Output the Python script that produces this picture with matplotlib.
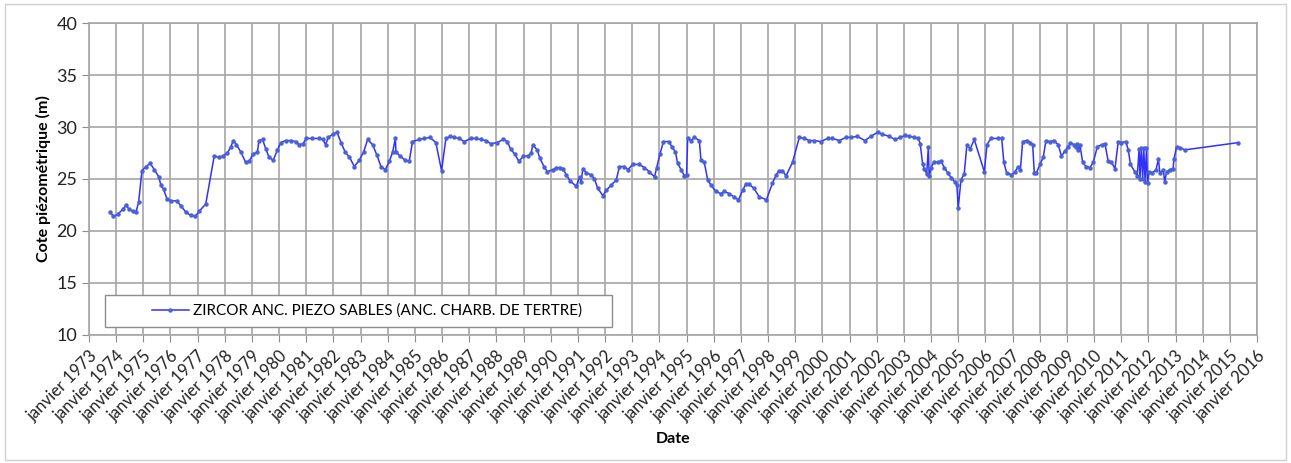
import matplotlib.pyplot as plt
from matplotlib.patches import Rectangle

# dates as decimal years, water level in m
years = [1973.79, 1973.9, 1974.06, 1974.25, 1974.37, 1974.47, 1974.61, 1974.73, 1974.83, 1974.95,
         1975.1, 1975.25, 1975.41, 1975.57, 1975.65, 1975.75, 1975.87, 1976.02, 1976.23, 1976.39,
         1976.57, 1976.75, 1976.91, 1977.06, 1977.3, 1977.61, 1977.77, 1977.92, 1978.1, 1978.22,
         1978.32, 1978.43, 1978.59, 1978.77, 1978.9, 1979.04, 1979.2, 1979.26, 1979.39, 1979.51,
         1979.63, 1979.78, 1979.94, 1980.06, 1980.24, 1980.43, 1980.61, 1980.73, 1980.88, 1981.0,
         1981.22, 1981.47, 1981.61, 1981.71, 1981.81, 1981.98, 1982.13, 1982.28, 1982.43, 1982.59,
         1982.77, 1982.95, 1983.11, 1983.26, 1983.44, 1983.6, 1983.75, 1983.91, 1984.06, 1984.18,
         1984.28, 1984.3, 1984.46, 1984.64, 1984.79, 1984.91, 1985.16, 1985.34, 1985.56, 1985.77,
         1985.98, 1986.14, 1986.3, 1986.45, 1986.63, 1986.81, 1987.06, 1987.24, 1987.42, 1987.61,
         1987.79, 1988.03, 1988.25, 1988.4, 1988.52, 1988.67, 1988.83, 1988.99, 1989.16, 1989.28,
         1989.34, 1989.5, 1989.6, 1989.75, 1989.87, 1990.09, 1990.2, 1990.33, 1990.45, 1990.57,
         1990.72, 1990.94, 1991.06, 1991.12, 1991.18, 1991.31, 1991.49, 1991.61, 1991.73, 1991.92,
         1992.04, 1992.22, 1992.41, 1992.53, 1992.71, 1992.84, 1993.02, 1993.26, 1993.45, 1993.63,
         1993.82, 1993.9, 1994.02, 1994.15, 1994.34, 1994.46, 1994.59, 1994.67, 1994.8, 1994.92,
         1995.0, 1995.04, 1995.16, 1995.29, 1995.47, 1995.53, 1995.65, 1995.78, 1995.9, 1996.08,
         1996.26, 1996.38, 1996.57, 1996.73, 1996.91, 1997.06, 1997.18, 1997.3, 1997.48, 1997.67,
         1997.94, 1998.16, 1998.3, 1998.4, 1998.53, 1998.66, 1998.9, 1999.15, 1999.33, 1999.52,
         1999.7, 1999.94, 2000.19, 2000.37, 2000.62, 2000.87, 2001.05, 2001.29, 2001.56, 2001.79,
         2002.03, 2002.21, 2002.46, 2002.67, 2002.87, 2003.04, 2003.2, 2003.38, 2003.53, 2003.6,
         2003.69, 2003.75, 2003.84, 2003.9, 2003.93, 2004.0, 2004.1, 2004.24, 2004.36, 2004.49,
         2004.61, 2004.75, 2004.88, 2004.95, 2005.0, 2005.1, 2005.22, 2005.32, 2005.44, 2005.59,
         2005.96, 2006.06, 2006.2, 2006.45, 2006.6, 2006.68, 2006.78, 2006.96, 2007.09, 2007.21,
         2007.29, 2007.37, 2007.52, 2007.66, 2007.74, 2007.8, 2007.88, 2008.01, 2008.13, 2008.23,
         2008.37, 2008.52, 2008.68, 2008.8, 2008.93, 2009.05, 2009.13, 2009.26, 2009.33, 2009.38,
         2009.42, 2009.48, 2009.58, 2009.7, 2009.85, 2009.97, 2010.12, 2010.28, 2010.4, 2010.52,
         2010.64, 2010.77, 2010.89, 2011.01, 2011.17, 2011.26, 2011.34, 2011.5, 2011.59, 2011.66,
         2011.69, 2011.74, 2011.79, 2011.83, 2011.88, 2011.93, 2011.97, 2012.03, 2012.15, 2012.28,
         2012.37, 2012.42, 2012.55, 2012.6, 2012.67, 2012.79, 2012.91, 2012.94, 2013.04, 2013.18,
         2013.34, 2015.31]
levels = [21.8, 21.4, 21.6, 22.1, 22.5, 22.1, 21.9, 21.8, 22.8, 25.8,
          26.2, 26.5, 25.9, 25.2, 24.4, 24.0, 23.1, 22.9, 22.9, 22.4,
          21.8, 21.5, 21.4, 21.9, 22.6, 27.2, 27.1, 27.2, 27.5, 28.1,
          28.7, 28.3, 27.6, 26.6, 26.7, 27.4, 27.6, 28.7, 28.8, 27.9,
          27.1, 26.8, 27.8, 28.5, 28.7, 28.7, 28.6, 28.3, 28.4, 28.9,
          28.9, 28.9, 28.8, 28.3, 29.0, 29.3, 29.5, 28.5, 27.6, 27.1,
          26.2, 26.8, 27.6, 28.8, 28.3, 27.3, 26.2, 25.9, 26.7, 27.6,
          28.9, 27.6, 27.2, 26.8, 26.7, 28.6, 28.8, 28.9, 29.0, 28.5,
          25.8, 28.9, 29.1, 29.0, 28.9, 28.6, 28.9, 28.9, 28.8, 28.7,
          28.4, 28.5, 28.8, 28.6, 27.9, 27.4, 26.7, 27.2, 27.2, 27.5,
          28.3, 27.8, 27.0, 26.2, 25.7, 25.9, 26.1, 26.1, 26.0, 25.4,
          24.8, 24.3, 25.2, 24.7, 26.0, 25.6, 25.4, 25.0, 24.1, 23.4,
          23.9, 24.4, 24.9, 26.2, 26.2, 25.9, 26.4, 26.4, 26.1, 25.7,
          25.2, 26.1, 27.4, 28.6, 28.6, 28.1, 27.6, 26.5, 25.9, 25.3,
          25.4, 28.9, 28.7, 29.0, 28.7, 26.8, 26.6, 24.9, 24.4, 23.8,
          23.6, 23.8, 23.6, 23.3, 23.0, 23.9, 24.5, 24.5, 24.1, 23.3,
          23.0, 24.6, 25.4, 25.8, 25.8, 25.3, 26.6, 29.0, 28.9, 28.7,
          28.7, 28.6, 28.9, 28.9, 28.7, 29.0, 29.0, 29.1, 28.7, 29.1,
          29.5, 29.3, 29.1, 28.8, 29.0, 29.2, 29.1, 29.0, 28.9, 28.4,
          26.4, 26.0, 25.5, 28.1, 25.3, 26.1, 26.6, 26.6, 26.7, 26.1,
          25.6, 25.1, 24.7, 24.4, 22.2, 24.9, 25.5, 28.3, 27.9, 28.8,
          25.7, 28.3, 28.9, 28.9, 28.9, 26.6, 25.6, 25.4, 25.7, 26.2,
          25.9, 28.6, 28.7, 28.5, 28.3, 25.6, 25.6, 26.4, 27.1, 28.7,
          28.6, 28.7, 28.3, 27.2, 27.7, 28.1, 28.5, 28.3, 28.1, 28.4,
          27.8, 28.3, 26.6, 26.2, 26.1, 26.6, 28.1, 28.3, 28.4, 26.7,
          26.6, 26.0, 28.6, 28.5, 28.6, 27.8, 26.4, 25.7, 25.3, 27.9,
          25.0, 28.0, 25.0, 28.0, 24.7, 28.0, 24.6, 25.7, 25.6, 25.9,
          26.9, 25.6, 25.9, 24.7, 25.7, 25.9, 26.0, 26.9, 28.1, 28.0,
          27.8, 28.5]
tick_years = list(range(1973, 2017))
tick_labels = ['janvier %d' % y for y in tick_years]
series_name = 'ZIRCOR ANC. PIEZO SABLES (ANC. CHARB. DE TERTRE)'

plt.rcParams['font.family'] = ['Lato', 'DejaVu Sans']

fig = plt.figure(figsize=(12.91, 4.63), dpi=100)
ax = fig.add_axes([0.0689, 0.2765, 0.9048, 0.6738])

ax.plot(years, levels, color='#3030FF', lw=1.1, marker='o', ms=2.2,
        mec='#4A62D8', mfc='#4A62D8', label=series_name, zorder=3)

ax.set_xlim(1973, 2016)
ax.set_ylim(10, 40)
ax.set_xticks(tick_years)
ax.set_xticklabels(tick_labels, rotation=45, ha='right', rotation_mode='anchor',
                   fontsize=12, color='#222222')
ax.set_yticks(range(10, 41, 5))
ax.tick_params(axis='y', labelsize=13, colors='#222222', length=5, color='#8C8C8C')
ax.tick_params(axis='x', length=5, color='#8C8C8C', pad=4)
ax.grid(True, color='#A6A6A6', lw=1.2)
ax.set_axisbelow(True)
for s in ax.spines.values():
    s.set_color('#A6A6A6')
    s.set_linewidth(1.2)

ax.set_ylabel('Cote piézométrique (m)', fontsize=11.5, fontweight='bold', labelpad=4)
ax.set_xlabel('Date', fontsize=11.5, fontweight='bold', labelpad=6)

# Excel style legend: white box, entry set in from the left edge
ax.add_patch(Rectangle((0.0137, 0.0256), 0.434, 0.1026, transform=ax.transAxes,
                       facecolor='white', edgecolor='#8C8C8C', lw=1, zorder=4))
leg = ax.legend(loc='center left', bbox_to_anchor=(0.054, 0.077), frameon=False,
                borderaxespad=0, borderpad=0, fontsize=11, handlelength=2.4,
                handletextpad=0.3)
leg.set_zorder(5)

fig.patches.append(Rectangle((0.004, 0.006), 0.992, 0.985, transform=fig.transFigure,
                             fill=False, edgecolor='#D0D0D0', lw=1))

plt.savefig('out.png', dpi=100)
